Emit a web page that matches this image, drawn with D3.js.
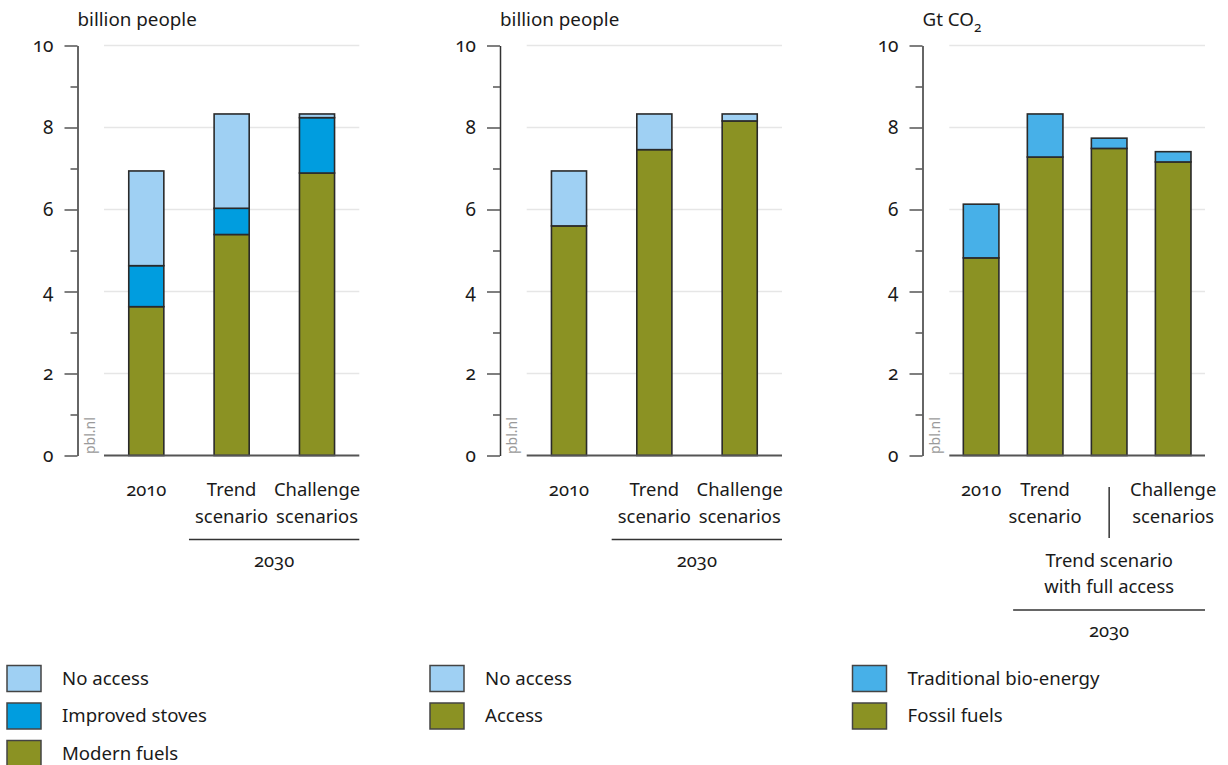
<!DOCTYPE html>
<html>
<head>
<meta charset="utf-8">
<script src="https://cdn.jsdelivr.net/npm/d3@7"></script>
<style>
  html, body { margin: 0; padding: 0; background: #ffffff; }
  svg { display: block; font-family: "Noto Sans", "Open Sans", sans-serif; font-variant-numeric: oldstyle-nums; }
  text { fill: #1a1a1a; }
</style>
</head>
<body>
<svg id="chart" width="1228" height="765"></svg>
<script>
// ---------- DATA ----------
const yTicks = [0, 2, 4, 6, 8, 10];
const yMinorTicks = [1, 3, 5, 7, 9];

// Panel 1: cooking fuel use (billion people)
const cats1 = ["2010", "Trend\nscenario", "Challenge\nscenarios"];
const modernFuels    = [3.63, 5.39, 6.89];
const improvedStoves = [1.00, 0.64, 1.35];
const noAccess1      = [2.31, 2.30, 0.09];

// Panel 2: electricity access (billion people)
const cats2 = ["2010", "Trend\nscenario", "Challenge\nscenarios"];
const access    = [5.60, 7.46, 8.16];
const noAccess2 = [1.34, 0.87, 0.17];

// Panel 3: emissions (Gt CO2)
const cats3 = ["2010", "Trend\nscenario", "Trend scenario\nwith full access", "Challenge\nscenarios"];
const fossilFuels = [4.82, 7.28, 7.49, 7.16];
const bioEnergy   = [1.31, 1.05, 0.25, 0.25];

const legend1 = ["No access", "Improved stoves", "Modern fuels"];
const legend2 = ["No access", "Access"];
const legend3 = ["Traditional bio-energy", "Fossil fuels"];

// ---------- STYLE ----------
const C = {
  noAccess: "#9fd0f3",
  improved: "#009ddf",
  olive: "#8b9223",
  bio: "#47b0e8"
};

const svg = d3.select("#chart");
const y = d3.scaleLinear().domain([0, 10]).range([455.5, 45.5]);

function panel(opts) {
  const g = svg.append("g");
  const ax = opts.axisX;
  const x = d3.scaleBand().domain(opts.cats).range([opts.gx0, opts.gx1])
    .paddingInner(opts.pi).paddingOuter(opts.po);

  // title
  const t = g.append("text").attr("x", ax).attr("y", 26).attr("font-size", 18.8);
  t.append("tspan").text(opts.title);
  if (opts.sub) {
    t.append("tspan").attr("font-size", 13.5).attr("dy", 6).text(opts.sub);
  }

  // gridlines
  g.append("g").selectAll("line").data(yTicks.filter(d => d > 0)).join("line")
    .attr("x1", opts.gx0).attr("x2", opts.gx1)
    .attr("y1", d => y(d)).attr("y2", d => y(d))
    .attr("stroke", "#e6e6e6").attr("stroke-width", 1.5);

  // axis major
  const axG = g.append("g").attr("transform", `translate(${ax},0)`)
    .call(d3.axisLeft(y).tickValues(yTicks).tickSize(13).tickSizeOuter(0).tickPadding(11).tickFormat(d3.format("d")));
  axG.attr("font-size", null).attr("font-family", null);
  axG.select(".domain").attr("stroke", "#333").attr("stroke-width", 1.5);
  axG.selectAll(".tick line").attr("stroke", "#555").attr("stroke-width", 1.5);
  axG.selectAll(".tick text").attr("font-size", 19).attr("fill", "#1a1a1a");
  // axis minor
  const axM = g.append("g").attr("transform", `translate(${ax},0)`)
    .call(d3.axisLeft(y).tickValues(yMinorTicks).tickSize(7).tickSizeOuter(0).tickFormat(""));
  axM.select(".domain").remove();
  axM.selectAll(".tick line").attr("stroke", "#555").attr("stroke-width", 1.5);

  // pbl.nl
  g.append("text").attr("transform", `translate(${ax + 17},454) rotate(-90)`)
    .attr("font-size", 14).style("fill", "#9a9a9a").text("pbl.nl");

  // stacked bars
  const rows = opts.cats.map((c, i) => {
    const o = { cat: c };
    opts.series.forEach(s => { o[s.key] = s.values[i]; });
    return o;
  });
  const stack = d3.stack().keys(opts.series.map(s => s.key))(rows);
  const colorOf = {};
  opts.series.forEach(s => colorOf[s.key] = s.color);
  g.append("g").selectAll("g").data(stack).join("g")
    .attr("fill", d => colorOf[d.key])
    .selectAll("rect").data(d => d).join("rect")
    .attr("x", d => x(d.data.cat)).attr("width", x.bandwidth())
    .attr("y", d => y(d[1])).attr("height", d => y(d[0]) - y(d[1]))
    .attr("stroke", "#2a2a2a").attr("stroke-width", 1.6);

  // baseline
  g.append("line").attr("x1", opts.gx0).attr("x2", opts.gx1)
    .attr("y1", y(0)).attr("y2", y(0)).attr("stroke", "#555").attr("stroke-width", 2);

  // category labels
  opts.cats.forEach((c, i) => {
    const cx = x(c) + x.bandwidth() / 2;
    const lower = opts.lowerIndex === i;
    const lines = c.split("\n");
    const by = lower ? 566.5 : 496;
    const tx = g.append("text").attr("text-anchor", "middle").attr("font-size", 18.4);
    lines.forEach((ln, k) => {
      tx.append("tspan").attr("x", cx).attr("y", by + k * 26.5).text(ln);
    });
    if (lower) {
      g.append("line").attr("x1", cx).attr("x2", cx).attr("y1", 487).attr("y2", 538)
        .attr("stroke", "#333").attr("stroke-width", 1.5);
    }
  });

  // 2030 group line
  const c0 = x(opts.cats[0]) + x.bandwidth() / 2;
  const c1 = x(opts.cats[1]) + x.bandwidth() / 2;
  const lx0 = (c0 + c1) / 2;
  const ly = opts.groupY;
  g.append("line").attr("x1", lx0).attr("x2", opts.gx1).attr("y1", ly).attr("y2", ly)
    .attr("stroke", "#333").attr("stroke-width", 1.5);
  g.append("text").attr("x", (lx0 + opts.gx1) / 2).attr("y", ly + 27)
    .attr("text-anchor", "middle").attr("font-size", 18.4).text("2030");

  // legend
  const lg = g.append("g");
  opts.legend.forEach((lab, k) => {
    const yy = 665.5 + k * 37.5;
    lg.append("rect").attr("x", opts.legX).attr("y", yy).attr("width", 34).attr("height", 26)
      .attr("fill", opts.legColors[k]).attr("stroke", "#444").attr("stroke-width", 1.5);
    lg.append("text").attr("x", opts.legX + 55).attr("y", yy + 19).attr("font-size", 18.6).text(lab);
  });
}

panel({
  axisX: 77.5, gx0: 104, gx1: 359.3, pi: 0.589, po: 0.29,
  title: "billion people", cats: cats1, groupY: 539.5,
  series: [
    { key: "modern", values: modernFuels, color: C.olive },
    { key: "improved", values: improvedStoves, color: C.improved },
    { key: "noaccess", values: noAccess1, color: C.noAccess }
  ],
  legX: 7, legend: legend1, legColors: [C.noAccess, C.improved, C.olive]
});

panel({
  axisX: 500, gx0: 526.7, gx1: 782, pi: 0.589, po: 0.29,
  title: "billion people", cats: cats2, groupY: 539.5,
  series: [
    { key: "access", values: access, color: C.olive },
    { key: "noaccess", values: noAccess2, color: C.noAccess }
  ],
  legX: 430, legend: legend2, legColors: [C.noAccess, C.olive]
});

panel({
  axisX: 922.5, gx0: 949.3, gx1: 1205, pi: 0.444, po: 0.219,
  title: "Gt CO", sub: "2", cats: cats3, groupY: 610, lowerIndex: 2,
  series: [
    { key: "fossil", values: fossilFuels, color: C.olive },
    { key: "bio", values: bioEnergy, color: C.bio }
  ],
  legX: 852.5, legend: legend3, legColors: [C.bio, C.olive]
});
</script>
</body>
</html>
